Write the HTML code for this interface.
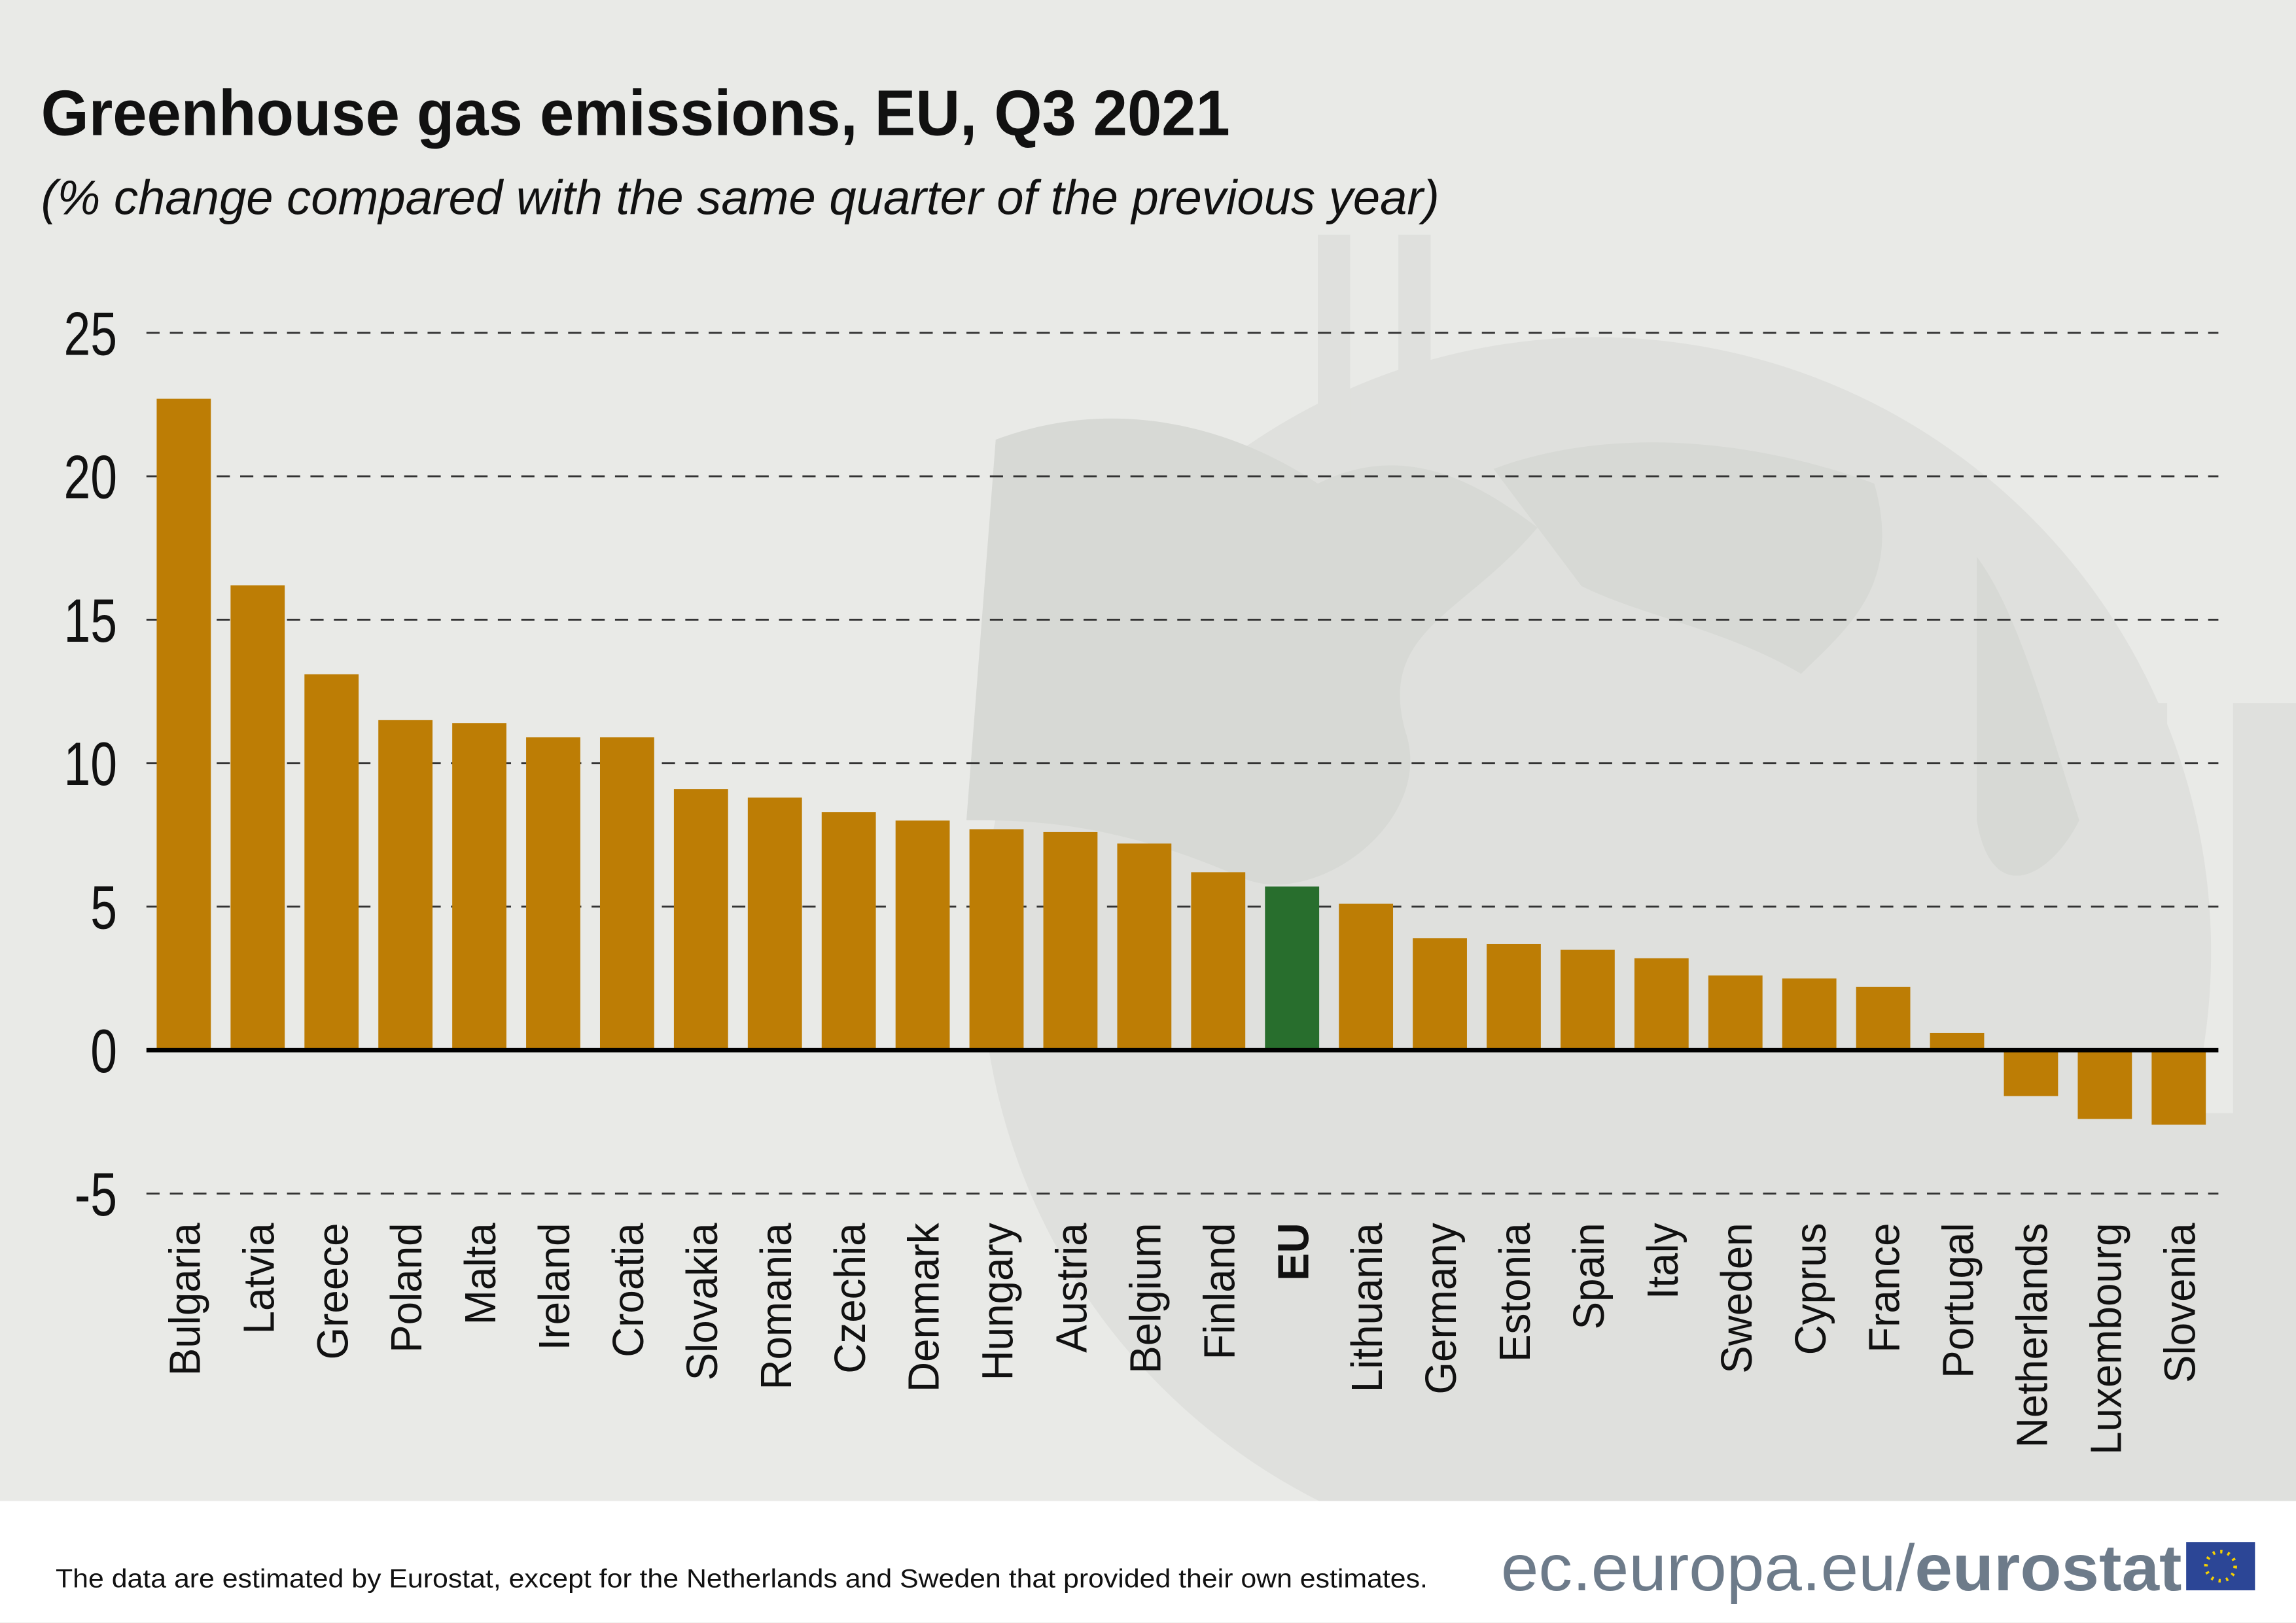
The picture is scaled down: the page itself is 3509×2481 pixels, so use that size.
<!DOCTYPE html>
<html><head><meta charset="utf-8"><style>
html,body{margin:0;padding:0;background:#e9eae7;}
svg{display:block}
</style></head><body>
<svg width="3509" height="2481" viewBox="0 0 1568 1108" xmlns="http://www.w3.org/2000/svg" font-family="'Liberation Sans', sans-serif">
<rect width="1568" height="1108" fill="#e9eae7"/>
<g fill="#dfe0dd">
<circle cx="1090" cy="650" r="420"/>
<rect x="900" y="160" width="22" height="130"/>
<rect x="955" y="160" width="22" height="130"/>
<rect x="1400" y="480" width="80" height="545"/>
<rect x="1525" y="480" width="43" height="545"/>
<rect x="1150" y="760" width="418" height="265" rx="15"/>
</g>
<g fill="#d7d9d5">
<path d="M680 300 C760 270 840 290 900 330 C960 300 1010 330 1050 360 C1000 420 940 430 960 500 C980 560 900 620 850 600 C760 560 700 560 660 560 Z"/>
<path d="M1020 320 C1100 290 1200 300 1280 330 C1300 400 1260 430 1230 460 C1180 430 1120 420 1080 400 Z"/>
<path d="M1350 380 C1380 420 1400 500 1420 560 C1400 600 1360 620 1350 560 Z"/>
</g>
<rect x="0" y="1025" width="1568" height="83" fill="#ffffff"/>
<text x="28" y="92" font-size="44" font-weight="bold" fill="#111" textLength="812" lengthAdjust="spacingAndGlyphs">Greenhouse gas emissions, EU, Q3 2021</text>
<text x="28" y="146" font-size="33" font-style="italic" fill="#111" textLength="955" lengthAdjust="spacingAndGlyphs">(% change compared with the same quarter of the previous year)</text>
<g stroke="#333" stroke-width="1.3" stroke-dasharray="9,7">
<line x1="100" y1="227" x2="1515" y2="227"/>
<line x1="100" y1="325" x2="1515" y2="325"/>
<line x1="100" y1="423" x2="1515" y2="423"/>
<line x1="100" y1="521" x2="1515" y2="521"/>
<line x1="100" y1="619" x2="1515" y2="619"/>
<line x1="100" y1="815" x2="1515" y2="815"/>
</g>
<g font-size="42" fill="#111" text-anchor="end">
<text transform="translate(80,242) scale(0.78,1)">25</text>
<text transform="translate(80,340) scale(0.78,1)">20</text>
<text transform="translate(80,438) scale(0.78,1)">15</text>
<text transform="translate(80,536) scale(0.78,1)">10</text>
<text transform="translate(80,634) scale(0.78,1)">5</text>
<text transform="translate(80,732) scale(0.78,1)">0</text>
<text transform="translate(80,830) scale(0.78,1)">-5</text>
</g>
<g id="bars"></g>
<line x1="100" y1="717" x2="1515" y2="717" stroke="#000" stroke-width="3"/>
<g id="labels" font-size="30" fill="#111"></g>
<text x="38" y="1084" font-size="18" fill="#111" textLength="937" lengthAdjust="spacingAndGlyphs">The data are estimated by Eurostat, except for the Netherlands and Sweden that provided their own estimates.</text>
<text x="1025" y="1086" font-size="45" fill="#6d7b8a" textLength="465" lengthAdjust="spacingAndGlyphs">ec.europa.eu/<tspan font-weight="bold">eurostat</tspan></text>
<rect x="1493" y="1053" width="47" height="33" fill="#2c4696"/>
<circle cx="1516.5" cy="1069.5" r="10" fill="none" stroke="#f5d000" stroke-width="2.5" stroke-dasharray="1.5,3.7"/>
<script>
var names=["Bulgaria","Latvia","Greece","Poland","Malta","Ireland","Croatia","Slovakia","Romania","Czechia","Denmark","Hungary","Austria","Belgium","Finland","EU","Lithuania","Germany","Estonia","Spain","Italy","Sweden","Cyprus","France","Portugal","Netherlands","Luxembourg","Slovenia"];
var vals=[22.7,16.2,13.1,11.5,11.4,10.9,10.9,9.1,8.8,8.3,8.0,7.7,7.6,7.2,6.2,5.7,5.1,3.9,3.7,3.5,3.2,2.6,2.5,2.2,0.6,-1.6,-2.4,-2.6];
var ns="http://www.w3.org/2000/svg",b=document.getElementById("bars"),l=document.getElementById("labels");
for(var i=0;i<28;i++){var cx=125.5+i*50.46,v=vals[i],h=Math.abs(v)*19.6;
var r=document.createElementNS(ns,"rect");r.setAttribute("x",cx-18.5);r.setAttribute("width",37);
r.setAttribute("y",v>=0?717-h:717);r.setAttribute("height",h);r.setAttribute("fill",names[i]=="EU"?"#286e2d":"#bd7d05");b.appendChild(r);
var t=document.createElementNS(ns,"text");t.setAttribute("transform","translate("+(cx+11)+",835) rotate(-90) scale(0.95,1)");
t.setAttribute("text-anchor","end");if(names[i]=="EU")t.setAttribute("font-weight","bold");t.textContent=names[i];l.appendChild(t);}
</script>
</svg>
</body></html>
